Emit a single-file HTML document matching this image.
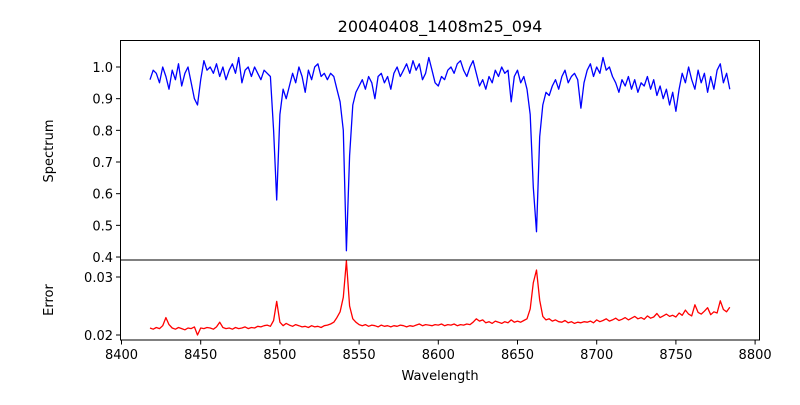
<!DOCTYPE html>
<html><head><meta charset="utf-8"><style>
body{margin:0;background:#fff;}
svg text{font-family:"DejaVu Sans","Liberation Sans",sans-serif;fill:#000;}
</style></head><body>
<svg id="chart" width="800" height="400" viewBox="0 0 800 400" xmlns="http://www.w3.org/2000/svg">
<rect width="800" height="400" fill="#fff"/>
<text x="440" y="32" font-size="16" text-anchor="middle">20040408_1408m25_094</text>
<g id="topPanel"></g>
<g id="botPanel"></g>
<g id="xax"></g>
<text x="440" y="380" font-size="13" text-anchor="middle">Wavelength</text>
<text transform="translate(53,151) rotate(-90)" font-size="13" text-anchor="middle">Spectrum</text>
<text transform="translate(53,300) rotate(-90)" font-size="13" text-anchor="middle">Error</text>
</svg>
<script>
const waveStart = 8418;
const waveStep = 2;
const spectrum = [0.96,0.99,0.98,0.95,1.00,0.97,0.93,0.99,0.96,1.01,0.94,0.98,1.00,0.95,
0.90,0.88,0.96,
1.02,0.99,1.00,0.98,1.01,0.97,1.00,0.96,0.99,1.01,0.98,1.03,0.95,0.99,1.00,0.97,1.00,0.98,0.96,0.99,0.98,0.97,
0.80,0.58,0.85,0.93,0.90,0.94,
0.98,0.95,1.00,0.97,0.92,0.99,0.96,1.00,1.01,0.97,0.98,0.96,0.98,0.97,
0.93,0.89,0.80,0.42,0.72,0.88,0.92,0.94,
0.96,0.93,0.97,0.95,0.90,0.97,0.98,0.95,0.97,0.93,0.98,1.00,0.97,0.99,1.01,0.98,1.02,0.99,1.01,0.96,0.98,1.03,0.99,0.95,
0.94,0.97,0.96,0.99,1.00,0.98,1.01,1.02,0.99,0.97,1.00,1.02,0.98,0.94,0.96,0.93,0.97,0.95,0.99,0.97,1.00,0.98,0.99,
0.89,0.97,0.99,0.95,0.97,0.93,0.85,0.62,0.48,0.78,0.88,0.92,
0.91,0.94,0.96,0.93,0.97,0.99,0.95,0.97,0.98,0.96,
0.87,0.95,0.99,1.01,0.97,1.00,0.98,1.03,0.99,1.00,
0.97,0.95,0.92,0.96,0.94,0.97,0.93,0.96,0.92,0.95,
0.94,0.97,0.93,0.96,0.91,0.94,0.90,0.93,0.88,0.92,
0.86,0.93,0.98,0.95,1.00,0.96,0.93,0.99,0.95,0.98,
0.92,0.97,0.93,0.99,1.01,0.95,0.98,0.93];
const errorVals = [.0212,.0210,.0213,.0211,.0216,.0230,.0218,.0212,.0210,.0213,.0211,.0209,.0212,.0211,
.0214,.0200,.0212,
.0211,.0213,.0212,.0210,.0214,.0222,.0213,.0211,.0212,.0210,.0213,.0211,.0212,.0214,.0211,.0213,.0212,.0215,.0214,.0216,.0217,.0215,
.0225,.0258,.0222,.0216,.0220,.0217,
.0215,.0218,.0216,.0214,.0215,.0213,.0216,.0214,.0215,.0213,.0216,.0217,.0219,.0222,
.0230,.0240,.0265,.0328,.0250,.0228,.0222,.0218,
.0216,.0218,.0215,.0217,.0216,.0214,.0217,.0215,.0216,.0214,.0216,.0215,.0217,.0216,.0214,.0216,.0215,.0217,.0219,.0216,.0218,.0217,.0216,.0218,
.0217,.0219,.0216,.0218,.0217,.0219,.0216,.0218,.0217,.0219,.0218,.0222,.0228,.0224,.0226,.0221,.0223,.0220,.0224,.0222,.0220,.0223,.0221,
.0226,.0222,.0224,.0222,.0225,.0228,.0245,.0290,.0312,.0260,.0232,.0226,
.0228,.0224,.0226,.0223,.0222,.0225,.0221,.0223,.0220,.0222,
.0221,.0223,.0222,.0224,.0221,.0226,.0223,.0225,.0228,.0224,
.0226,.0229,.0225,.0227,.0230,.0226,.0229,.0232,.0228,.0230,
.0227,.0233,.0229,.0231,.0237,.0230,.0233,.0236,.0232,.0234,
.0231,.0238,.0234,.0243,.0236,.0233,.0252,.0239,.0236,.0241,
.0247,.0235,.0240,.0238,.0259,.0244,.0240,.0248];
const xTicks = [8400,8450,8500,8550,8600,8650,8700,8750,8800];
const specTicks = [0.4,0.5,0.6,0.7,0.8,0.9,1.0];
const errTicks = [0.02,0.03];

const NS="http://www.w3.org/2000/svg";
const X=v=>121.5+(v-8400)*1.584;
const YS=v=>67+(1.0-v)*316.7;
const YE=v=>335-(v-0.02)*5800;
function mk(tag,attrs,parent){const e=document.createElementNS(NS,tag);for(const k in attrs)e.setAttribute(k,attrs[k]);parent.appendChild(e);return e;}
const topG=document.getElementById('topPanel'),botG=document.getElementById('botPanel'),xax=document.getElementById('xax');
let p1=spectrum.map((v,i)=>X(waveStart+waveStep*i).toFixed(1)+','+YS(v).toFixed(1)).join(' ');
const l1=mk('polyline',{points:p1,fill:'none',stroke:'#0000ff','stroke-width':1.3,'stroke-linejoin':'round'},topG);


let p2=errorVals.map((v,i)=>X(waveStart+waveStep*i).toFixed(1)+','+YE(v).toFixed(1)).join(' ');
const l2=mk('polyline',{points:p2,fill:'none',stroke:'#ff0000','stroke-width':1.3,'stroke-linejoin':'round'},botG);


const f1=mk('rect',{x:120.5,y:40.5,width:639,height:219.5,fill:'none',stroke:'#000','stroke-width':1},topG);


const f2=mk('rect',{x:120.5,y:260,width:639,height:80,fill:'none',stroke:'#000','stroke-width':1},botG);


specTicks.forEach(t=>{const y=YS(t);
 const tk=mk('line',{x1:116,x2:120.5,y1:y,y2:y,stroke:'#000'},topG);
 
 
 const tx=mk('text',{x:113,y:y+5,'font-size':13,'text-anchor':'end'},topG);tx.textContent=t.toFixed(1);
 
 });
errTicks.forEach(t=>{const y=YE(t);
 const tk=mk('line',{x1:116,x2:120.5,y1:y,y2:y,stroke:'#000'},botG);
 
 
 const tx=mk('text',{x:113,y:y+5,'font-size':13,'text-anchor':'end'},botG);tx.textContent=t.toFixed(2);
 
 });
xTicks.forEach(t=>{const x=X(t);
 const tk=mk('line',{x1:x,x2:x,y1:340,y2:344.5,stroke:'#000'},xax);
 
 
 const tx=mk('text',{x:x,y:359,'font-size':13,'text-anchor':'middle'},xax);tx.textContent=t;
 
 });
</script>
</body></html>
